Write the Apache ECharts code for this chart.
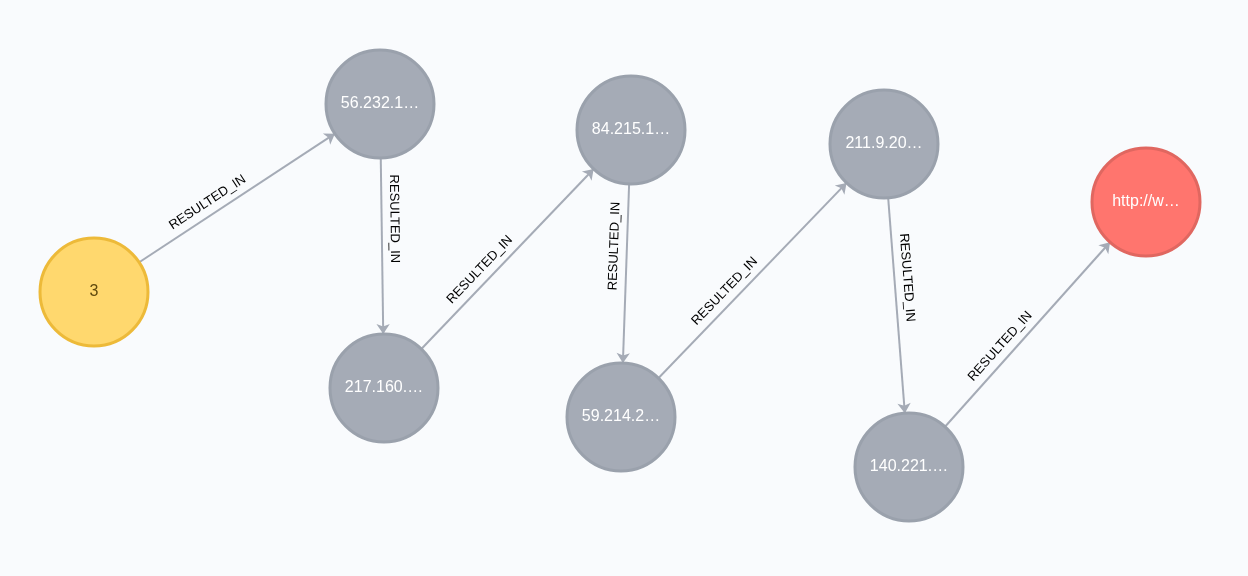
<!DOCTYPE html>
<html>
<head>
<meta charset="utf-8">
<script src="https://cdn.jsdelivr.net/npm/echarts@6/dist/echarts.min.js"></script>
<style>html,body{margin:0;padding:0;background:#F9FBFD;}#chart{width:1248px;height:576px;}</style>
</head>
<body>
<div id="chart"></div>
<script>
// node names, kinds and positions
var nodeNames = ['3', '56.232.1…', '217.160.…', '84.215.1…', '59.214.2…', '211.9.20…', '140.221.…', 'http://w…'];
var nodeKinds = ['count', 'ip', 'ip', 'ip', 'ip', 'ip', 'ip', 'url'];
var nodeX = [94, 380, 384, 631, 621, 884, 909, 1146];
var nodeY = [292, 104, 388, 130, 417, 144, 467, 202];
var linkFrom = [0, 1, 2, 3, 4, 5, 6];
var linkTo = [1, 2, 3, 4, 5, 6, 7];
var relName = 'RESULTED_IN';

var kindStyle = {
    count: { color: '#FFD86E', borderColor: '#EDBA39', label: '#604A0E' },
    ip: { color: '#A5ABB6', borderColor: '#9AA1AC', label: '#FFFFFF' },
    url: { color: '#FF756E', borderColor: '#E06760', label: '#FFFFFF' }
};

var chart = echarts.init(document.getElementById('chart'));
var nodes = nodeNames.map(function (n, i) {
    var s = kindStyle[nodeKinds[i]];
    return {
        name: n,
        value: [nodeX[i], nodeY[i]],
        itemStyle: { color: s.color, borderColor: s.borderColor, borderWidth: 3 },
        label: { color: s.label }
    };
});
var links = linkFrom.map(function (f, i) {
    return { source: nodeNames[f], target: nodeNames[linkTo[i]] };
});

chart.setOption({
    backgroundColor: '#F9FBFD',
    grid: { left: 0, right: 0, top: 0, bottom: 0 },
    xAxis: { type: 'value', min: 0, max: 1248, show: false },
    yAxis: { type: 'value', min: 0, max: 576, inverse: true, show: false },
    series: [{
        type: 'graph',
        coordinateSystem: 'cartesian2d',
        symbolSize: 108,
        edgeSymbol: ['none', 'arrow'],
        edgeSymbolSize: [0, 10],
        data: nodes,
        links: links,
        label: {
            show: true,
            fontSize: 16,
            fontFamily: 'Helvetica, Arial, sans-serif',
            formatter: '{b}'
        },
        lineStyle: { color: '#A5ABB6', width: 2, opacity: 1 },
        edgeLabel: {
            show: true,
            formatter: relName,
            fontSize: 13,
            color: '#000',
            fontFamily: 'Helvetica, Arial, sans-serif',
            backgroundColor: '#F9FBFD',
            padding: [1, 3]
        },
        emphasis: { disabled: true },
        animation: false
    }]
});
</script>
</body>
</html>
